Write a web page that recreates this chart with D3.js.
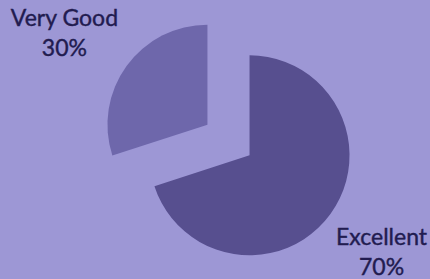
<!DOCTYPE html>
<html lang="en">
<head>
<meta charset="UTF-8">
<title>Rating Pie</title>
<script src="https://d3js.org/d3.v7.min.js"></script>
<style>
  body { margin: 0; background: #9d97d5; }
  svg { display: block; }
  .label { font: 23px "Lato", "Open Sans", sans-serif; fill: #221c50; stroke: #221c50; stroke-width: 0.4px; text-anchor: middle; }
</style>
</head>
<body>
<script>
  const categories = ["Excellent", "Very Good"];
  const values = [70, 30];
  const colors = ["#574f8f", "#6e67ab"];

  const width = 430;
  const height = 279;
  const cx = 228.5, cy = 140;
  const radius = 100;
  const explode = 26;

  const data = categories.map((c, i) => ({ name: c, value: values[i], color: colors[i] }));

  const pie = d3.pie().sort(null).value(d => d.value);
  const arc = d3.arc().innerRadius(0).outerRadius(radius);
  const labelArc = d3.arc().innerRadius(186).outerRadius(186);

  const svg = d3.select("body")
    .append("svg")
    .attr("width", width)
    .attr("height", height);

  svg.append("rect")
    .attr("width", width)
    .attr("height", height)
    .attr("fill", "#9d97d5");

  const g = svg.append("g").attr("transform", `translate(${cx},${cy})`);

  const slices = pie(data);

  g.selectAll(".slice")
    .data(slices)
    .enter()
    .append("path")
    .attr("class", "slice")
    .attr("fill", d => d.data.color)
    .attr("transform", d => {
      const mid = (d.startAngle + d.endAngle) / 2;
      return `translate(${Math.sin(mid) * explode},${-Math.cos(mid) * explode})`;
    })
    .attr("d", arc);

  // labels sit on a slightly wider-than-tall ring round the pie
  const label = g.selectAll(".label")
    .data(slices)
    .enter()
    .append("text")
    .attr("class", "label")
    .attr("transform", d => {
      const [x, y] = labelArc.centroid(d);
      return `translate(${x * 196 / 186 - 5.5},${y - 4.5})`;
    });

  label.append("tspan")
    .attr("x", 0)
    .attr("y", 0)
    .text(d => d.data.name);

  label.append("tspan")
    .attr("x", 0)
    .attr("y", 30)
    .text(d => d.data.value + "%");
</script>
</body>
</html>
